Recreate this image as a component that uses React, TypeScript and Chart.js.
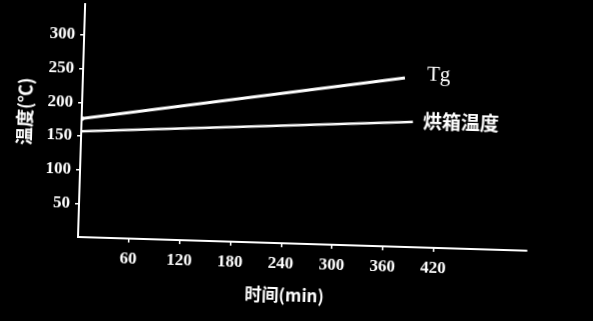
import { useEffect, useRef } from "react";
import { Chart, registerables } from "chart.js";

Chart.register(...registerables);

const xTickValues = [60, 120, 180, 240, 300, 360, 420];
const yTickValues = [50, 100, 150, 200, 250, 300];
const tgTimes = [0, 380];
const tgValues = [176, 251];
const ovenTimes = [0, 391];
const ovenValues = [157, 186];
const tgLabel = "Tg";
const ovenLabel = "烘箱温度";
const xTitle = "时间(min)";
const yTitle = "温度(℃)";

const annotate = {
  id: "annotate",
  afterDraw(chart: any) {
    const { ctx, chartArea } = chart;
    const x = chart.scales.x;
    const y = chart.scales.y;
    ctx.save();
    ctx.fillStyle = "#fff";
    ctx.textAlign = "left";
    ctx.textBaseline = "alphabetic";
    ctx.font = '21px "Liberation Serif"';
    ctx.fillText(tgLabel, x.getPixelForValue(tgTimes[1]) + 22, y.getPixelForValue(tgValues[1]) + 2);
    ctx.font = 'bold 19px "Noto Sans CJK SC"';
    ctx.textBaseline = "middle";
    ctx.fillText(ovenLabel, x.getPixelForValue(ovenTimes[1]) + 10, y.getPixelForValue(ovenValues[1]) - 1);
    ctx.font = 'bold 17px "Noto Sans CJK SC"';
    ctx.textAlign = "center";
    ctx.fillText(xTitle, chartArea.left + 208, chartArea.bottom + 52);
    ctx.translate(21, chartArea.bottom - 124);
    ctx.rotate(-Math.PI / 2);
    ctx.font = 'bold 18px "Noto Sans CJK SC"';
    ctx.fillText(yTitle, 0, 0);
    ctx.restore();
  },
};

const tickFont = { family: "Liberation Serif", size: 17, weight: "bold" as const };

export default function App() {
  const ref = useRef<HTMLCanvasElement>(null);
  useEffect(() => {
    const chart = new Chart(ref.current!, {
      type: "line",
      data: {
        datasets: [
          {
            label: tgLabel,
            data: tgTimes.map((t, i) => ({ x: t, y: tgValues[i] })),
            borderColor: "#fff",
            backgroundColor: "#fff",
            borderWidth: 3,
            pointRadius: [2.5, 0],
            pointBorderWidth: 0,
          },
          {
            label: ovenLabel,
            data: ovenTimes.map((t, i) => ({ x: t, y: ovenValues[i] })),
            borderColor: "#fff",
            backgroundColor: "#fff",
            borderWidth: 2.5,
            pointRadius: 0,
          },
        ],
      },
      options: {
        responsive: false,
        animation: false,
        layout: { padding: { left: 0, top: 0, right: 66, bottom: 0 } },
        plugins: { legend: { display: false }, tooltip: { enabled: false } },
        scales: {
          x: {
            type: "linear",
            min: 0,
            max: 530,
            afterBuildTicks: (s: any) => {
              s.ticks = xTickValues.map((v) => ({ value: v }));
            },
            afterFit: (s: any) => {
              s.height = 84;
              s.paddingLeft = 0;
              s.paddingRight = 0;
              s.paddingTop = 0;
              s.paddingBottom = 0;
            },
            border: { color: "#fff", width: 2 },
            grid: { drawOnChartArea: false, color: "#fff", tickLength: 4, lineWidth: 1.5 },
            ticks: { color: "#fff", font: tickFont, padding: 6, maxRotation: 0, autoSkip: false },
          },
          y: {
            type: "linear",
            min: 0,
            max: 346,
            afterBuildTicks: (s: any) => {
              s.ticks = yTickValues.map((v) => ({ value: v }));
            },
            afterFit: (s: any) => {
              s.width = 78;
              s.paddingLeft = 0;
              s.paddingRight = 0;
              s.paddingTop = 0;
              s.paddingBottom = 0;
            },
            border: { color: "#fff", width: 2 },
            grid: { drawOnChartArea: false, color: "#fff", tickLength: 4, lineWidth: 1.5 },
            ticks: { color: "#fff", font: tickFont, padding: 5, autoSkip: false },
          },
        },
      },
      plugins: [annotate],
    });
    return () => chart.destroy();
  }, []);
  return (
    <div
      style={{
        position: "fixed",
        left: 0,
        top: 0,
        width: 593,
        height: 321,
        background: "#000",
        overflow: "hidden",
      }}
    >
      <canvas
        ref={ref}
        width={593}
        height={321}
        style={{
          display: "block",
          width: 593,
          height: 321,
          transform: "rotate(1.75deg)",
          transformOrigin: "78px 237px",
        }}
      />
    </div>
  );
}
